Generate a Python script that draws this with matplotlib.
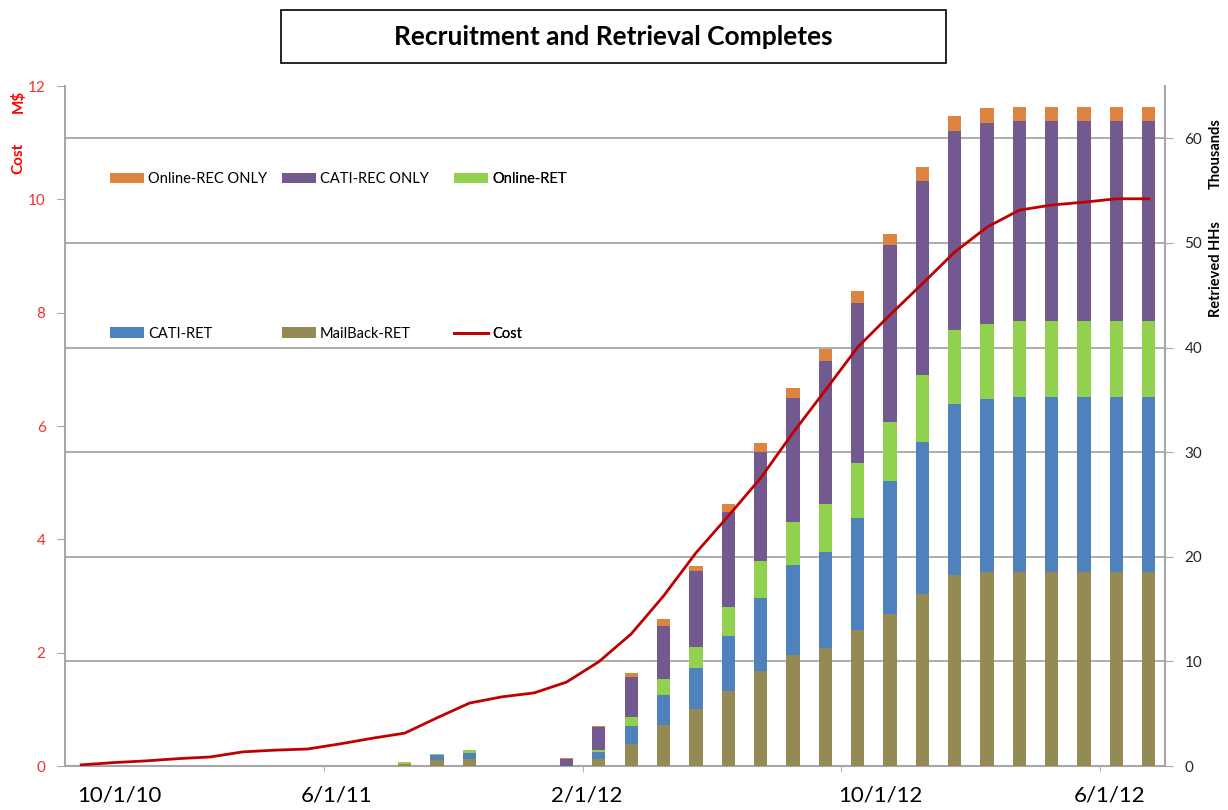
import numpy as np
import matplotlib
matplotlib.use("Agg")
import matplotlib.pyplot as plt
from matplotlib.patches import Rectangle, Patch
from matplotlib.lines import Line2D

plt.rcParams['font.family'] = ['Lato', 'DejaVu Sans']

# ---------------- data ---------------- #
# 34 monthly periods, values in thousands of households
mailback_ret = [0, 0, 0, 0, 0, 0, 0, 0, 0, 0,
                0.17, 0.54, 0.70, 0, 0, 0, 0.69, 2.14, 3.96, 5.42,
                7.14, 9.08, 10.58, 11.30, 13.01, 14.53, 16.45, 18.21, 18.56, 18.56,
                18.56, 18.56, 18.56, 18.56]
cati_ret = [0, 0, 0, 0, 0, 0, 0, 0, 0, 0,
            0, 0.48, 0.57, 0, 0, 0, 0.63, 1.68, 2.87, 3.95,
            5.29, 7.02, 8.61, 9.20, 10.69, 12.75, 14.52, 16.39, 16.49, 16.74,
            16.74, 16.74, 16.74, 16.74]
online_ret = [0, 0, 0, 0, 0, 0, 0, 0, 0, 0,
              0.17, 0.16, 0.25, 0, 0, 0, 0.23, 0.90, 1.53, 2.04,
              2.77, 3.50, 4.12, 4.55, 5.27, 5.63, 6.41, 7.10, 7.22, 7.26,
              7.26, 7.26, 7.26, 7.26]
cati_rec_only = [0, 0, 0, 0, 0, 0, 0, 0, 0, 0,
                 0, 0, 0, 0, 0, 0.65, 2.20, 3.79, 5.02, 7.23,
                 9.12, 10.46, 11.84, 13.69, 15.33, 16.89, 18.52, 19.00, 19.17, 19.10,
                 19.10, 19.10, 19.10, 19.10]
online_rec_only = [0, 0, 0, 0, 0, 0, 0, 0, 0, 0,
                   0, 0, 0, 0, 0, 0.13, 0.12, 0.35, 0.64, 0.48,
                   0.70, 0.86, 1.03, 1.13, 1.07, 1.06, 1.40, 1.44, 1.44, 1.38,
                   1.38, 1.38, 1.38, 1.38]
# cumulative cost, M$
cost = [0.02, 0.06, 0.09, 0.13, 0.16, 0.25, 0.28, 0.30, 0.39, 0.49,
        0.58, 0.85, 1.11, 1.22, 1.29, 1.48, 1.84, 2.33, 3.00, 3.76,
        4.41, 5.08, 5.88, 6.63, 7.39, 7.96, 8.51, 9.07, 9.51, 9.81,
        9.90, 9.95, 10.01, 10.01]

date_labels = ["10/1/10", "6/1/11", "2/1/12", "10/1/12", "6/1/12"]

# ---------------- layout ---------------- #
label_pos = [1.17, 7.88, 15.64, 24.7, 31.78]
tick_pos = [7.5, 15.5, 23.5, 31.5]

series = [
    ("MailBack-RET", mailback_ret, "#948A54"),
    ("CATI-RET", cati_ret, "#4F81BD"),
    ("Online-RET", online_ret, "#92D050"),
    ("CATI-REC ONLY", cati_rec_only, "#72598F"),
    ("Online-REC ONLY", online_rec_only, "#DD8440"),
]
grid_col = "#A6A6A6"
red = "#C00000"

fig = plt.figure(figsize=(12.28, 8.10), dpi=100)
ax = fig.add_axes([65 / 1228, 44 / 810, 1100 / 1228, 680 / 810])
ax2 = ax.twinx()

x = np.arange(len(cost))
bottom = np.zeros(len(cost))
for name, vals, col in series:
    ax.bar(x, vals, width=0.41, bottom=bottom, color=col, linewidth=0, zorder=3)
    bottom += np.array(vals)

ax2.plot(x, cost, color=red, linewidth=2.0, zorder=5)

# bars axis -> right side
ax.set_xlim(-0.5, len(cost) - 0.5)
ax.set_ylim(0, 65)
ax.set_yticks(range(0, 61, 10))
ax.yaxis.tick_right()
ax.tick_params(axis='y', which='major', direction='out', length=6, color=grid_col,
               labelsize=11, labelcolor='#262626', pad=8)
ax.yaxis.grid(True, color=grid_col, linewidth=1.3, zorder=0)
ax.set_axisbelow(True)
ax.spines['top'].set_visible(False)
for s in ['left', 'right', 'bottom']:
    ax.spines[s].set_color(grid_col)
    ax.spines[s].set_linewidth(1.5)

ax.set_xticks(label_pos)
ax.set_xticklabels(date_labels, fontsize=16)
ax.tick_params(axis='x', which='major', length=0, pad=14)
ax.set_xticks(tick_pos, minor=True)
ax.tick_params(axis='x', which='minor', length=4, color=grid_col, direction='out')

# cost axis -> left side
ax2.set_ylim(0, 12)
ax2.set_yticks(range(0, 13, 2))
ax2.yaxis.tick_left()
ax2.tick_params(axis='y', direction='out', length=6, color=grid_col,
                labelsize=11, labelcolor='#F03030', pad=8)
for s in ax2.spines.values():
    s.set_visible(False)
ax2.patch.set_visible(False)

# axis titles
fig.text(18 / 1228, 1 - 101 / 810, "M$", rotation=90, color='red', fontsize=11,
         fontweight='bold', ha='center', va='center')
fig.text(18 / 1228, 1 - 158 / 810, "Cost", rotation=90, color='red', fontsize=11,
         fontweight='bold', ha='center', va='center')
fig.text(1216 / 1228, 1 - 154 / 810, "Thousands", rotation=90, color='black', fontsize=10.5,
         fontweight='bold', ha='center', va='center')
fig.text(1216 / 1228, 1 - 269 / 810, "Retrieved HHs", rotation=90, color='black', fontsize=10.5,
         fontweight='bold', ha='center', va='center')

# title box
fig.patches.append(Rectangle((281 / 1228, 1 - 63 / 810), 665 / 1228, 53 / 810,
                             transform=fig.transFigure, fill=False, edgecolor='black',
                             linewidth=1.2))
fig.text(613.5 / 1228, 1 - 37 / 810, "Recruitment and Retrieval Completes",
         fontsize=19, fontweight='bold', ha='center', va='center')

# legend: three columns, two rows far apart
cols = {n: c for n, v, c in series}
columns = [
    [("Online-REC ONLY", "p"), ("CATI-RET", "p")],
    [("CATI-REC ONLY", "p"), ("MailBack-RET", "p")],
    [("Online-RET", "p"), ("Cost", "l")],
]
col_x = [(110 - 65) / 1100, (282 - 65) / 1100, (454 - 65) / 1100]
for cx, entries in zip(col_x, columns):
    handles = []
    for name, kind in entries:
        if kind == "p":
            handles.append(Patch(facecolor=cols[name], edgecolor='none', label=name))
        else:
            handles.append(Line2D([], [], color=red, linewidth=2.0, label=name))
    leg = ax2.legend(handles=handles, loc='upper left', bbox_to_anchor=(cx, (766 - 172) / 680),
                     frameon=False, fontsize=10.5, labelspacing=9.65, handlelength=2.3,
                     handleheight=0.75, handletextpad=0.3, borderpad=0, borderaxespad=0)
    ax2.add_artist(leg)

fig.savefig("out.png", dpi=100)
